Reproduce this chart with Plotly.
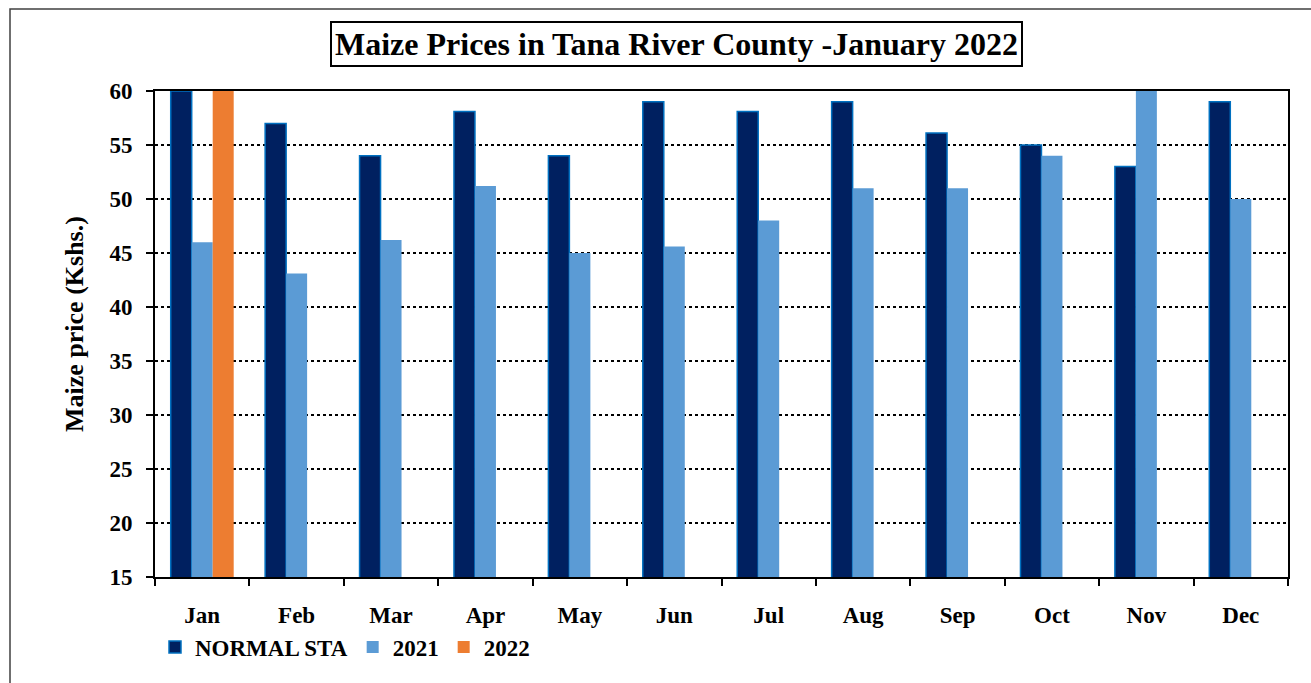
import plotly.graph_objects as go

months = ["Jan", "Feb", "Mar", "Apr", "May", "Jun", "Jul", "Aug", "Sep", "Oct", "Nov", "Dec"]
normal_sta = [60, 57, 54, 58.1, 54, 59, 58.1, 59, 56.1, 55, 53, 59]
prices_2021 = [46, 43.1, 46.2, 51.2, 45, 45.6, 48, 51, 51, 54, 60, 50]
prices_2022 = [60, None, None, None, None, None, None, None, None, None, None, None]
y_ticks = [15, 20, 25, 30, 35, 40, 45, 50, 55, 60]

W, H = 1311, 683
L, R, T, B = 155, 23, 91, 106
pw, ph = W - L - R, H - T - B

def px(x):
    return (x - L) / pw

def py(y):
    return (H - B - y) / ph

FONT = "Liberation Serif"

fig = go.Figure()
fig.add_trace(go.Bar(
    x=months, y=normal_sta, name="NORMAL STA",
    marker=dict(color="#002060", line=dict(color="#0070C0", width=1.5)),
))
fig.add_trace(go.Bar(
    x=months, y=prices_2021, name="2021",
    marker=dict(color="#5B9BD5", line=dict(width=0)),
))
fig.add_trace(go.Bar(
    x=months, y=prices_2022, name="2022",
    marker=dict(color="#ED7D31", line=dict(width=0)),
))

fig.update_layout(
    width=W, height=H,
    margin=dict(l=L, r=R, t=T, b=B),
    paper_bgcolor="white", plot_bgcolor="white",
    barmode="group", bargap=0.333, bargroupgap=0,
    font=dict(family=FONT, color="black", size=23),
    showlegend=True,
    legend=dict(
        orientation="h", x=px(155), y=py(647), xanchor="left", yanchor="middle",
        font=dict(family=FONT, size=23, color="black", weight="bold"),
        itemwidth=30, traceorder="normal", bgcolor="rgba(0,0,0,0)",
    ),
    xaxis=dict(
        type="category", tickson="boundaries", ticks="outside", ticklen=7,
        tickwidth=2, tickcolor="black",
        showline=True, linecolor="black", linewidth=2, mirror=True,
        tickfont=dict(family=FONT, size=23, color="black", weight="bold"),
        ticklabelstandoff=16, showgrid=False,
    ),
    yaxis=dict(
        range=[15, 60], tickvals=y_ticks, ticks="outside", ticklen=7,
        tickwidth=2, tickcolor="black",
        showline=True, linecolor="black", linewidth=2, mirror=True,
        showgrid=True, gridcolor="black", gridwidth=1.5, griddash="dot",
        tickfont=dict(family=FONT, size=23, color="black", weight="bold"),
        ticklabelstandoff=9,
        zeroline=False,
    ),
    annotations=[
        dict(
            text="<b>Maize Prices in Tana River County -January 2022</b>",
            xref="paper", yref="paper", x=px(676), y=py(44),
            xanchor="center", yanchor="middle", showarrow=False,
            font=dict(family=FONT, size=32, color="black"),
            bordercolor="black", borderwidth=2, borderpad=3, bgcolor="white",
        ),
        dict(
            text="<b>Maize price (Kshs.)</b>",
            xref="paper", yref="paper", x=px(74), y=py(324),
            xanchor="center", yanchor="middle", showarrow=False, textangle=-90,
            font=dict(family=FONT, size=26, color="black"),
        ),
    ],
    shapes=[dict(
        type="rect", xref="paper", yref="paper",
        x0=px(10), x1=px(1313), y0=py(695), y1=py(9),
        line=dict(color="#404040", width=1.5), layer="below",
    )],
)

fig.write_html("out.html")
